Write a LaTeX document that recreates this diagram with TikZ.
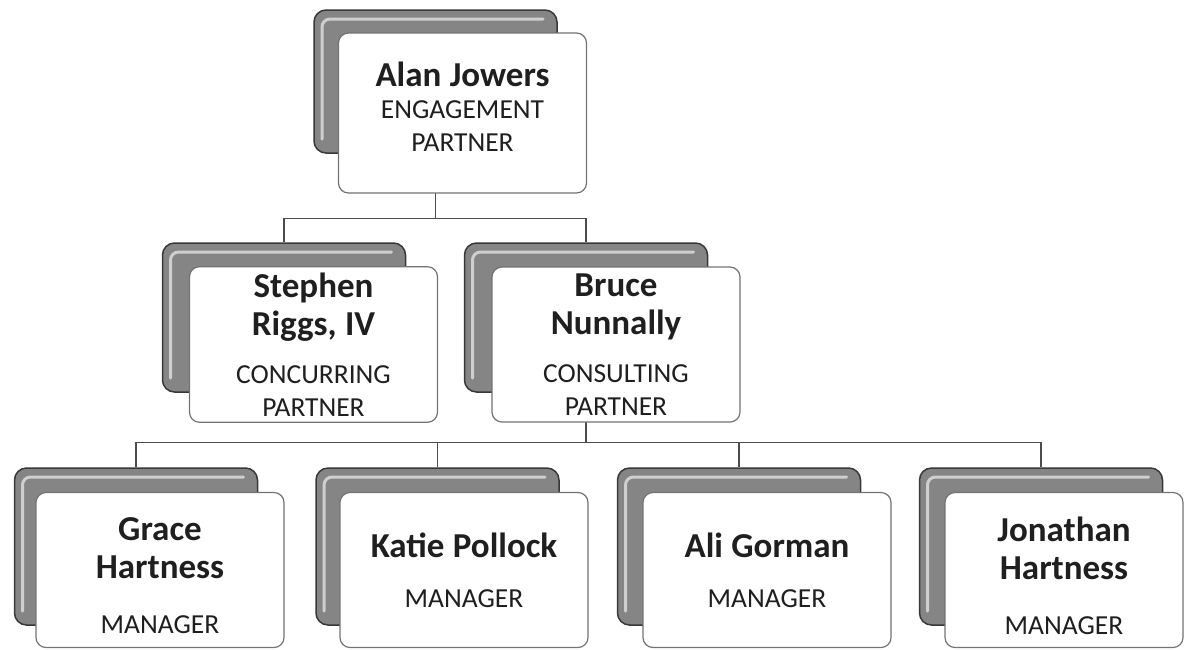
\documentclass[tikz,border=0pt]{standalone}
\usepackage{fontspec}
\setmainfont{Carlito}
\usetikzlibrary{backgrounds}

\newcommand{\namefont}{\fontsize{35}{38}\selectfont\bfseries\spaceskip=0.24em\xspaceskip=0.26em}
\newcommand{\rolefont}{\fontsize{27.5}{33}\selectfont}
% pushes the text block up (positive) or down (negative) inside its box
\newcommand{\lift}[1]{\par\vspace{#1}\nointerlineskip\hbox{}}

\begin{document}
\begin{tikzpicture}[x=1pt, y=-1pt,
    backbox/.style={rectangle, rounded corners=12pt, draw=black!78, line width=1.5pt,
        fill=black!48, minimum width=243pt, inner sep=0pt,
        path picture={\draw[gray!38, line width=3pt, line cap=round, rounded corners=8pt]
            ([shift={(8pt,14pt)}]path picture bounding box.south west) --
            ([shift={(8pt,-9pt)}]path picture bounding box.north west) --
            ([shift={(-14pt,-9pt)}]path picture bounding box.north east);}},
    frontbox/.style={rectangle, rounded corners=10pt, draw=black!55, line width=1.2pt,
        fill=white, text=black!88, minimum width=248pt, text width=236pt,
        inner sep=6pt, align=center},
    elbow/.style={to path={|- ([yshift=#1]\tikztotarget) -- (\tikztotarget)}},
    elbow/.default=24pt]
\useasboundingbox (0,0) rectangle (1185,649);

% shadow boxes
\begin{scope}[every node/.style={backbox}]
    \node[minimum height=143pt] (jowersB) at (435.5,81.5) {};
    \node[minimum height=149pt] (riggsB) at (284,317.5) {};
    \node[minimum height=149pt] (nunnallyB) at (586,317.5) {};
    \node[minimum height=157pt] (graceB) at (136,546.5) {};
    \node[minimum height=157pt] (pollockB) at (437.5,546.5) {};
    \node[minimum height=157pt] (gormanB) at (739,546.5) {};
    \node[minimum height=157pt] (jonathanB) at (1041,546.5) {};
\end{scope}

% name boxes
\begin{scope}[every node/.style={frontbox}]
    \node[minimum height=160pt] (jowers) at (462.5,113)
        {{\namefont Alan Jowers\par}\vspace{-1pt}{\rolefont ENGAGEMENT\\PARTNER\lift{12pt}}};
    \node[minimum height=155pt] (riggs) at (313.5,344.5)
        {{\namefont Stephen\\Riggs, IV\par}\vspace{15pt}{\rolefont CONCURRING\\PARTNER\par}};
    \node[minimum height=155pt] (nunnally) at (616,344.5)
        {{\namefont Bruce\\Nunnally\par}\vspace{15pt}{\rolefont CONSULTING\\PARTNER\par}};
    \node[minimum height=155pt] (grace) at (160,570)
        {{\namefont Grace\\Hartness\par}\vspace{22pt}{\rolefont MANAGER\lift{-12pt}}};
    \node[minimum height=155pt] (pollock) at (464,570)
        {{\namefont Katie Pollock\par}\vspace{17pt}{\rolefont MANAGER\par}};
    \node[minimum height=155pt] (gorman) at (767,570)
        {{\namefont Ali Gorman\par}\vspace{17pt}{\rolefont MANAGER\par}};
    \node[minimum height=155pt, minimum width=238pt, text width=226pt] (jonathan) at (1064,570)
        {{\namefont Jonathan\\Hartness\par}\vspace{22pt}{\rolefont MANAGER\lift{-12pt}}};
\end{scope}

% reporting lines
\begin{scope}[on background layer,
              every edge/.style={draw=black!70, line width=1.2pt}]
    \path (jowersB.south) edge[elbow] (riggsB.north);
    \path (jowersB.south) edge[elbow] (nunnallyB.north);
    \path (nunnallyB.south) edge[elbow=25pt] (graceB.north);
    \path (nunnallyB.south) edge[elbow=25pt] (pollockB.north);
    \path (nunnallyB.south) edge[elbow=25pt] (gormanB.north);
    \path (nunnallyB.south) edge[elbow=25pt] (jonathanB.north);
\end{scope}

\end{tikzpicture}
\end{document}
